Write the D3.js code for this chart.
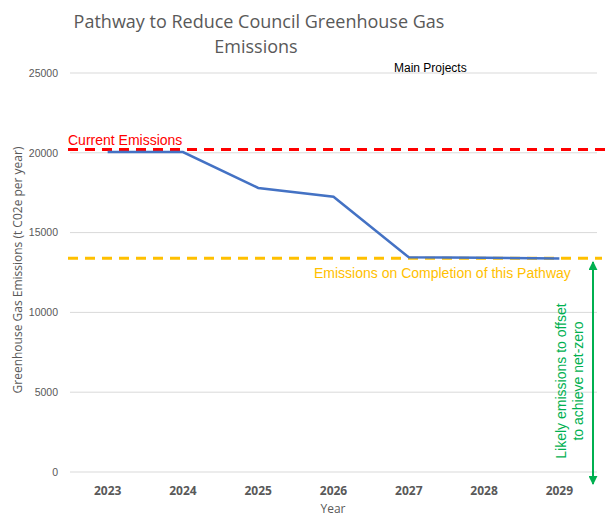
<!DOCTYPE html>
<html><head><meta charset="utf-8">
<script src="https://cdn.jsdelivr.net/npm/d3@7"></script>
<style>body{margin:0;background:#fff}svg{display:block}</style>
</head><body>
<svg id="c" width="608" height="528"></svg>
<script>
const years = ["2023","2024","2025","2026","2027","2028","2029"];
const emissions = [20050, 20050, 17800, 17250, 13450, 13420, 13370];
const yTicks = [0, 5000, 10000, 15000, 20000, 25000];
const currentEmissions = 20200;
const completionEmissions = 13400;

const svg = d3.select("#c");
const L = 70, R = 597, T = 73, B = 472;
const x = d3.scaleBand().domain(years).range([L, R]);
const y = d3.scaleLinear().domain([0, 25000]).range([B, T]);
const sans = "Liberation Sans, Arial, sans-serif";

// gridlines
svg.append("g").selectAll("line").data(yTicks).join("line")
  .attr("x1", L).attr("x2", R).attr("y1", d => y(d)).attr("y2", d => y(d))
  .attr("stroke", "#d9d9d9").attr("stroke-width", 1);

// y axis labels
const yAxis = svg.append("g").attr("transform", `translate(${L},0)`)
  .call(d3.axisLeft(y).tickValues(yTicks).tickSize(0).tickPadding(12).tickFormat(d3.format("d")));
yAxis.select(".domain").remove();
yAxis.selectAll("text").attr("fill", "#595959").style("font-family", sans).style("font-size", "10.5px");

// x axis labels
const xAxis = svg.append("g").attr("transform", `translate(0,${B})`)
  .call(d3.axisBottom(x).tickSize(0).tickPadding(14));
xAxis.select(".domain").remove();
xAxis.selectAll("text").attr("fill", "#595959").style("font-family", "Open Sans, sans-serif").style("font-size", "12px").style("font-weight", "bold");

// reference lines
svg.append("line").attr("x1", 68).attr("x2", 606)
  .attr("y1", y(currentEmissions)).attr("y2", y(currentEmissions))
  .attr("stroke", "#ff0000").attr("stroke-width", 3).attr("stroke-dasharray", "10,7");
svg.append("line").attr("x1", 68).attr("x2", 602)
  .attr("y1", y(completionEmissions)).attr("y2", y(completionEmissions))
  .attr("stroke", "#ffc000").attr("stroke-width", 3).attr("stroke-dasharray", "10,7");

// data line
svg.append("path").datum(emissions)
  .attr("fill", "none").attr("stroke", "#4472c4").attr("stroke-width", 2.5)
  .attr("d", d3.line().x((d, i) => x(years[i]) + x.bandwidth() / 2).y(d => y(d)));

// labels
svg.append("text").attr("x", 68).attr("y", 145).text("Current Emissions")
  .attr("fill", "#ff0000").style("font-family", sans).style("font-size", "14px");
svg.append("text").attr("x", 314).attr("y", 278).text("Emissions on Completion of this Pathway")
  .attr("fill", "#ffc000").style("font-family", sans).style("font-size", "14px");
svg.append("text").attr("x", 394).attr("y", 72).text("Main Projects")
  .attr("fill", "#000").style("font-family", sans).style("font-size", "12px");

// title
const title = svg.append("text").attr("text-anchor", "middle").attr("fill", "#595959")
  .style("font-family", "Open Sans, sans-serif").style("font-size", "18px");
title.append("tspan").attr("x", 259).attr("y", 28).text("Pathway to Reduce Council Greenhouse Gas");
title.append("tspan").attr("x", 256).attr("y", 53).text("Emissions");

// axis titles
svg.append("text").attr("transform", "translate(22,270) rotate(-90)").attr("text-anchor", "middle")
  .attr("fill", "#595959").style("font-family", "Open Sans, sans-serif").style("font-size", "12px")
  .text("Greenhouse Gas Emissions (t C02e per year)");
svg.append("text").attr("x", 333).attr("y", 513).attr("text-anchor", "middle")
  .attr("fill", "#595959").style("font-family", "Open Sans, sans-serif").style("font-size", "12px")
  .text("Year");

// green arrow
const defs = svg.append("defs");
defs.append("marker").attr("id", "ah").attr("viewBox", "0 0 10 10").attr("refX", 9).attr("refY", 5)
  .attr("markerWidth", 4.5).attr("markerHeight", 4.5).attr("orient", "auto-start-reverse")
  .append("path").attr("d", "M0,0L10,5L0,10z").attr("fill", "#00b050");
svg.append("line").attr("x1", 593).attr("x2", 593).attr("y1", 262).attr("y2", 484)
  .attr("stroke", "#00b050").attr("stroke-width", 2)
  .attr("marker-start", "url(#ah)").attr("marker-end", "url(#ah)");
svg.append("text").attr("transform", "translate(566,381) rotate(-90)").attr("text-anchor", "middle")
  .attr("fill", "#00b050").style("font-family", sans).style("font-size", "14px")
  .text("Likely emissions to offset");
svg.append("text").attr("transform", "translate(583,381) rotate(-90)").attr("text-anchor", "middle")
  .attr("fill", "#00b050").style("font-family", sans).style("font-size", "14px")
  .text("to achieve net-zero");
</script>
</body></html>
